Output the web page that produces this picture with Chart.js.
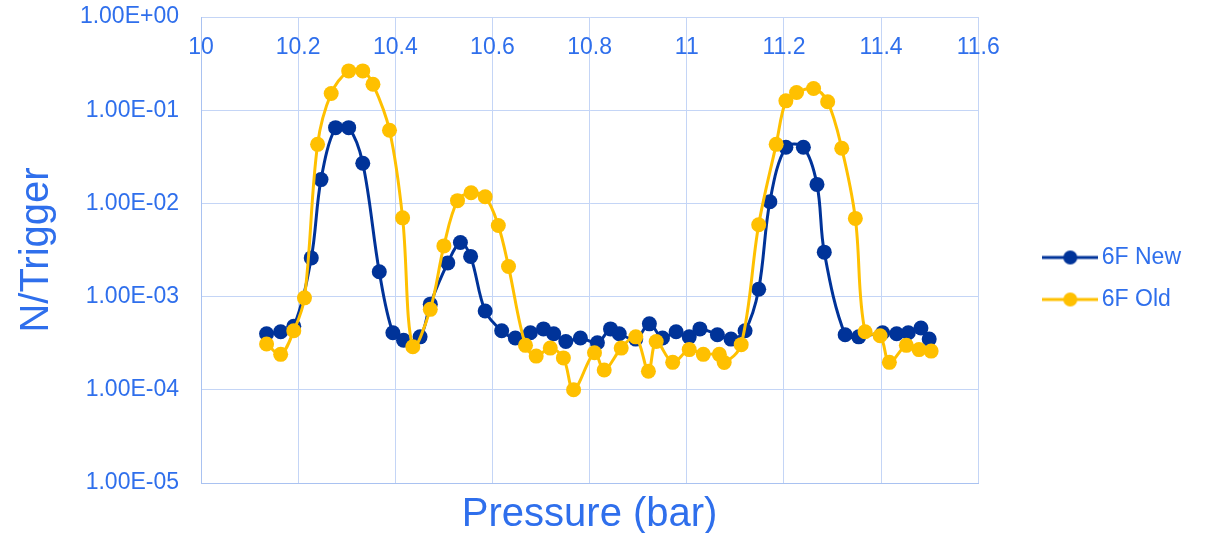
<!DOCTYPE html>
<html>
<head>
<meta charset="utf-8">
<script src="https://cdn.jsdelivr.net/npm/chart.js@4.4.1/dist/chart.umd.min.js"></script>
<style>
  html, body { margin: 0; padding: 0; background: #fff; }
  #wrap { width: 1211px; height: 533px; }
</style>
</head>
<body>
<div id="wrap"><canvas id="chart"></canvas></div>
<script>
// 6F New
const newX = [10.135, 10.164, 10.191, 10.227, 10.247, 10.277, 10.304, 10.333, 10.367, 10.395,
  10.417, 10.451, 10.472, 10.508, 10.534, 10.555, 10.585, 10.619, 10.647, 10.678,
  10.705, 10.726, 10.751, 10.781, 10.816, 10.843, 10.861, 10.895, 10.923, 10.950,
  10.978, 11.005, 11.027, 11.063, 11.091, 11.120, 11.148, 11.171, 11.204, 11.240,
  11.268, 11.283, 11.326, 11.354, 11.403, 11.432, 11.456, 11.482, 11.499];
const newY = [4.0e-4, 4.2e-4, 4.8e-4, 2.6e-3, 1.8e-2, 6.5e-2, 6.5e-2, 2.7e-2, 1.85e-3, 4.1e-4,
  3.4e-4, 3.7e-4, 8.3e-4, 2.3e-3, 3.8e-3, 2.7e-3, 7.0e-4, 4.3e-4, 3.6e-4, 4.1e-4,
  4.5e-4, 4.0e-4, 3.3e-4, 3.6e-4, 3.2e-4, 4.5e-4, 4.0e-4, 3.5e-4, 5.1e-4, 3.6e-4,
  4.2e-4, 3.7e-4, 4.5e-4, 3.9e-4, 3.5e-4, 4.3e-4, 1.2e-3, 1.04e-2, 4.0e-2, 4.0e-2,
  1.6e-2, 3.0e-3, 3.9e-4, 3.7e-4, 4.1e-4, 4.0e-4, 4.1e-4, 4.6e-4, 3.5e-4];

// 6F Old
const oldX = [10.135, 10.164, 10.191, 10.213, 10.240, 10.268, 10.304, 10.333, 10.354, 10.388,
  10.415, 10.436, 10.472, 10.500, 10.528, 10.556, 10.585, 10.612, 10.633, 10.668,
  10.690, 10.719, 10.746, 10.767, 10.810, 10.830, 10.865, 10.895, 10.921, 10.937,
  10.971, 11.005, 11.034, 11.067, 11.077, 11.112, 11.148, 11.184, 11.204, 11.226,
  11.261, 11.290, 11.319, 11.347, 11.367, 11.398, 11.417, 11.452, 11.478, 11.503];
const oldY = [3.1e-4, 2.4e-4, 4.3e-4, 9.7e-4, 4.3e-2, 0.151, 0.264, 0.264, 0.19, 6.1e-2,
  7.0e-3, 2.9e-4, 7.3e-4, 3.5e-3, 1.07e-2, 1.3e-2, 1.18e-2, 5.8e-3, 2.1e-3, 3.0e-4,
  2.3e-4, 2.8e-4, 2.2e-4, 1.0e-4, 2.5e-4, 1.63e-4, 2.8e-4, 3.7e-4, 1.58e-4, 3.3e-4,
  1.97e-4, 2.7e-4, 2.4e-4, 2.4e-4, 1.96e-4, 3.05e-4, 5.9e-3, 4.3e-2, 0.126, 0.155,
  0.171, 0.123, 3.9e-2, 6.9e-3, 4.2e-4, 3.8e-4, 1.97e-4, 3.0e-4, 2.7e-4, 2.6e-4];

const xTicks = [10, 10.2, 10.4, 10.6, 10.8, 11, 11.2, 11.4, 11.6];
const yTicks = [1e-5, 1e-4, 1e-3, 1e-2, 1e-1, 1];

const TEXT = '#2f6fec';
const GRID = '#c4d5f6';
const EDGE = '#a9c2f1';
const BLUE = '#003399';
const GOLD = '#ffc000';
const FONT = 'Arial, "Liberation Sans", sans-serif';

function pts(xs, ys) { return xs.map((x, i) => ({ x: x, y: ys[i] })); }

function sci(v) {
  const [m, e] = v.toExponential(2).split('e');
  return m + 'E' + e[0] + e.slice(1).padStart(2, '0');
}

function legendMark(color) {
  const c = document.createElement('canvas');
  c.width = 56; c.height = 16;
  const g = c.getContext('2d');
  g.strokeStyle = color; g.lineWidth = 3;
  g.beginPath(); g.moveTo(0, 8); g.lineTo(56, 8); g.stroke();
  g.fillStyle = color;
  g.beginPath(); g.arc(28, 8, 7, 0, Math.PI * 2); g.fill();
  return c;
}
const marks = [legendMark(BLUE), legendMark(GOLD)];

// x labels sit just inside the top of the plot, like the original
const topLabels = {
  id: 'topLabels',
  beforeDatasetsDraw(chart) {
    const { ctx, chartArea, scales } = chart;
    ctx.save();
    ctx.font = '23px ' + FONT;
    ctx.fillStyle = TEXT;
    ctx.textAlign = 'center';
    ctx.textBaseline = 'alphabetic';
    xTicks.forEach(v => {
      ctx.fillText(String(v), scales.x.getPixelForValue(v), chartArea.top + 36.5);
    });
    ctx.restore();
  }
};

new Chart(document.getElementById('chart'), {
  type: 'line',
  data: {
    datasets: [
      {
        label: '6F New',
        data: pts(newX, newY),
        borderColor: BLUE,
        backgroundColor: BLUE,
        borderWidth: 3,
        pointRadius: 7.5,
        pointBorderWidth: 0,
        pointHoverRadius: 7.5,
        tension: 0.35,
        order: 2
      },
      {
        label: '6F Old',
        data: pts(oldX, oldY),
        borderColor: GOLD,
        backgroundColor: GOLD,
        borderWidth: 3,
        pointRadius: 7.5,
        pointBorderWidth: 0,
        pointHoverRadius: 7.5,
        tension: 0.35,
        order: 1
      }
    ]
  },
  options: {
    responsive: true,
    maintainAspectRatio: false,
    animation: false,
    layout: { padding: { top: 0, right: 20, bottom: 0, left: 0 } },
    scales: {
      x: {
        type: 'linear',
        position: 'bottom',
        min: 10,
        max: 11.6,
        afterBuildTicks: s => { s.ticks = xTicks.map(v => ({ value: v })); },
        afterFit: s => { s.height = 50; s.paddingLeft = 0; s.paddingRight = 0; },
        ticks: { display: false },
        grid: { color: GRID, lineWidth: 1, drawTicks: false },
        border: { color: EDGE, width: 1 },
        title: {
          display: true,
          text: 'Pressure (bar)',
          color: TEXT,
          font: { family: FONT, size: 40, lineHeight: 1.0 },
          padding: { top: 0, bottom: -2 }
        }
      },
      y: {
        type: 'logarithmic',
        position: 'left',
        min: 1e-5,
        max: 1,
        afterBuildTicks: s => { s.ticks = yTicks.map(v => ({ value: v })); },
        afterFit: s => { s.width = 201; s.paddingTop = 17; s.paddingBottom = 0; },
        ticks: {
          color: TEXT,
          font: { family: FONT, size: 23 },
          padding: 22,
          callback: v => sci(v)
        },
        grid: { color: GRID, lineWidth: 1, drawTicks: false },
        border: { color: EDGE, width: 1 },
        title: {
          display: true,
          text: 'N/Trigger',
          color: TEXT,
          font: { family: FONT, size: 40 },
          padding: { top: 13, bottom: 0 }
        }
      },
      gap: {
        type: 'linear',
        position: 'right',
        afterFit: s => { s.width = 53; s.paddingTop = 0; s.paddingBottom = 0; },
        ticks: { display: false },
        grid: { display: false },
        border: { display: false }
      }
    },
    plugins: {
      legend: {
        position: 'right',
        align: 'center',
        title: { display: true, text: '', font: { size: 20, lineHeight: 1.2 }, padding: 0 },
        labels: {
          usePointStyle: true,
          pointStyleWidth: 40,
          boxHeight: 16,
          padding: 19,
          color: TEXT,
          font: { family: FONT, size: 23 },
          sort: (a, b) => a.datasetIndex - b.datasetIndex,
          generateLabels: chart => {
            const items = Chart.defaults.plugins.legend.labels.generateLabels(chart);
            items.forEach(it => { it.pointStyle = marks[it.datasetIndex]; });
            return items;
          }
        }
      },
      tooltip: { enabled: false }
    }
  },
  plugins: [topLabels]
});
</script>
</body>
</html>
